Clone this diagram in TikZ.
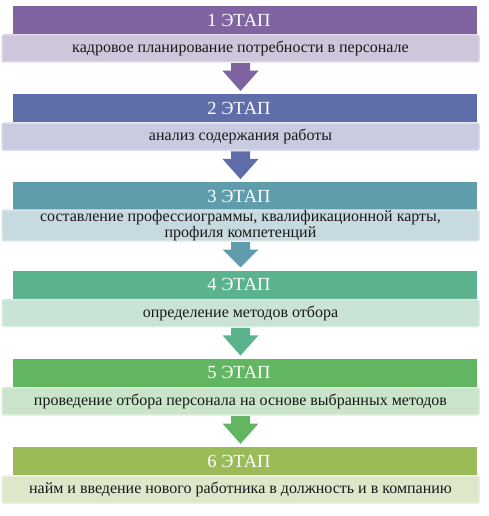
\documentclass[tikz,border=0pt]{standalone}
\usepackage{fontspec}
\setmainfont{Liberation Serif}
\usetikzlibrary{calc}
\definecolor{hA}{HTML}{8064A2}
\definecolor{sA}{HTML}{CEC7DB}
\definecolor{bA}{HTML}{DDD8E6}
\definecolor{hB}{HTML}{5F6EA8}
\definecolor{sB}{HTML}{C9CCE0}
\definecolor{bB}{HTML}{D9DCEA}
\definecolor{hC}{HTML}{5F9DAD}
\definecolor{sC}{HTML}{C7DADF}
\definecolor{bC}{HTML}{D8E6EA}
\definecolor{hD}{HTML}{5BB38E}
\definecolor{sD}{HTML}{C9E3D6}
\definecolor{bD}{HTML}{D9EDE3}
\definecolor{hE}{HTML}{62B662}
\definecolor{sE}{HTML}{C9E4C9}
\definecolor{bE}{HTML}{D9EDD9}
\definecolor{hF}{HTML}{9BBB59}
\definecolor{sF}{HTML}{DDE8CA}
\definecolor{bF}{HTML}{E8F0DC}
\tikzset{
  hdr/.style={rectangle, minimum width=463.5pt, minimum height=28pt, inner sep=0pt, draw=none},
  sub/.style={rectangle, rounded corners=1.5pt, minimum width=477pt, minimum height=27pt, inner sep=0pt, line width=1.5pt, font=\fontsize{16}{16}\selectfont, text=black!90, align=center},
  htext/.style={text=white, inner sep=0pt, font=\fontsize{18.5}{20}\selectfont},
}
\newcommand{\blockarrow}[3]{%
  \fill[#3] ($(#1.south)+(-9.5,0.5)$) -- ($(#1.south)+(9.5,0.5)$) -- ($(#1.south)+(9.5,8)$)
     -- ($(#1.south)+(18,8)$) -- ($(#1.south |- #2.north)+(0,-3)$) -- ($(#1.south)+(-18,8)$)
     -- ($(#1.south)+(-9.5,8)$) -- cycle;}
\begin{document}
\begin{tikzpicture}[x=1pt,y=-1pt]
\useasboundingbox (0,0) rectangle (488,516);
% stage 1
\node[hdr, fill=hA] (h1) at (244.75,20) {};
\node[htext] (t1) at (239,20) {1 ЭТАП};
\node[sub, fill=sA, draw=bA] (s1) at (240.5,48.5) {кадровое планирование потребности в персонале};
% stage 2
\node[hdr, fill=hB] (h2) at (244.75,108.2) {};
\node[htext] (t2) at (239,108.2) {2 ЭТАП};
\node[sub, fill=sB, draw=bB] (s2) at (240.5,136.7) {анализ содержания работы};
% stage 3
\node[hdr, fill=hC] (h3) at (244.75,196.4) {};
\node[htext] (t3) at (239,196.4) {3 ЭТАП};
\node[sub, fill=sC, draw=bC] (s3) at (240.5,225.5) {составление профессиограммы, квалификационной карты,\\ профиля компетенций};
% stage 4
\node[hdr, fill=hD] (h4) at (244.75,284.6) {};
\node[htext] (t4) at (239,284.6) {4 ЭТАП};
\node[sub, fill=sD, draw=bD] (s4) at (240.5,313.1) {определение методов отбора};
% stage 5
\node[hdr, fill=hE] (h5) at (244.75,372.8) {};
\node[htext] (t5) at (239,372.8) {5 ЭТАП};
\node[sub, fill=sE, draw=bE] (s5) at (240.5,401.3) {проведение отбора персонала на основе выбранных методов};
% stage 6
\node[hdr, fill=hF] (h6) at (244.75,461) {};
\node[htext] (t6) at (239,461) {6 ЭТАП};
\node[sub, fill=sF, draw=bF] (s6) at (240.5,489.5) {найм и введение нового работника в должность и в компанию};
% arrows
\blockarrow{s1}{h2}{hA}
\blockarrow{s2}{h3}{hB}
\blockarrow{s3}{h4}{hC}
\blockarrow{s4}{h5}{hD}
\blockarrow{s5}{h6}{hE}
\end{tikzpicture}
\end{document}
